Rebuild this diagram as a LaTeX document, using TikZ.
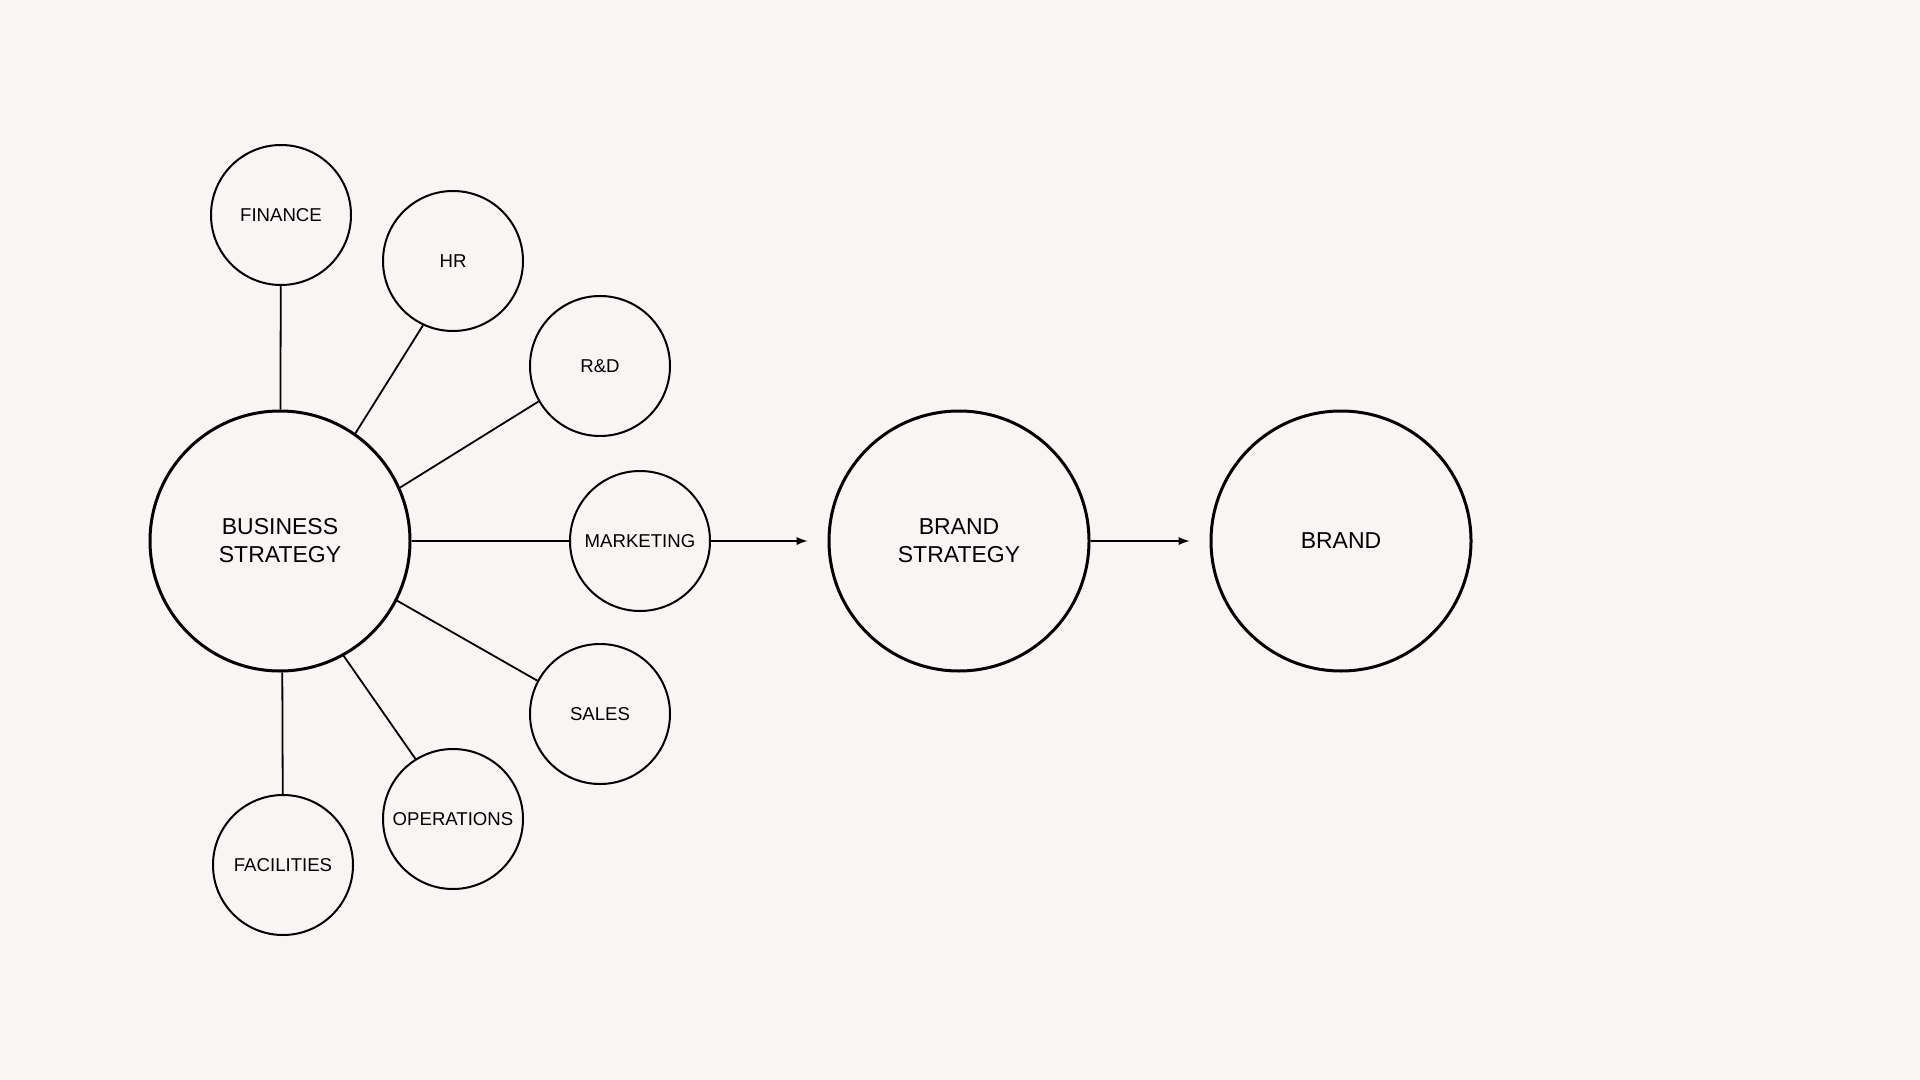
\documentclass[tikz,border=0pt]{standalone}
\usepackage{fontspec}
\setmainfont{Liberation Sans}
\usetikzlibrary{arrows}
\definecolor{paper}{RGB}{249, 245, 244}

\begin{document}
\begin{tikzpicture}[x=0.5pt, y=-0.5pt, >=latex,
			bigcircle/.style={draw, circle, line width=1.5pt, minimum size=130pt, inner sep=0pt, align=center, font=\fontsize{11.5}{14}\selectfont},
			smallcircle/.style={draw, circle, line width=1pt, minimum size=70pt, inner sep=0pt, font=\fontsize{9.3}{11}\selectfont},
			spoke/.style={line width=0.9pt}]
			% Hintergrund
			\fill[paper] (0,0) rectangle (1920,1080);
			\useasboundingbox (0,0) rectangle (1920,1080);
			% Kreise
			\node[bigcircle] (business) at (280,541) {BUSINESS\\STRATEGY};
			\node[bigcircle] (brandstrategy) at (959,541) {BRAND\\STRATEGY};
			\node[bigcircle] (brand) at (1341,541) {BRAND};
			\node[smallcircle] (finance) at (281,215) {FINANCE};
			\node[smallcircle] (hr) at (453,261) {HR};
			\node[smallcircle] (rd) at (600,366) {R\&D};
			\node[smallcircle] (marketing) at (640,541) {MARKETING};
			\node[smallcircle] (sales) at (600,714) {SALES};
			\node[smallcircle] (operations) at (453,819) {OPERATIONS};
			\node[smallcircle] (facilities) at (283,865) {FACILITIES};
			% Verbindungen
			\draw[spoke] (business) -- (finance);
			\draw[spoke] (business.55) -- (hr.245);
			\draw[spoke] (business.24) -- (rd.210);
			\draw[spoke] (business) -- (marketing);
			\draw[spoke] (business.333) -- (sales.152);
			\draw[spoke] (business.299) -- (operations.122);
			\draw[spoke] (business.-89) -- (facilities);
			% Pfeile
			\draw[spoke,->,shorten >=10pt] (marketing) -- (brandstrategy);
			\draw[spoke,->,shorten >=10pt] (brandstrategy) -- (brand);
\end{tikzpicture}
\end{document}
